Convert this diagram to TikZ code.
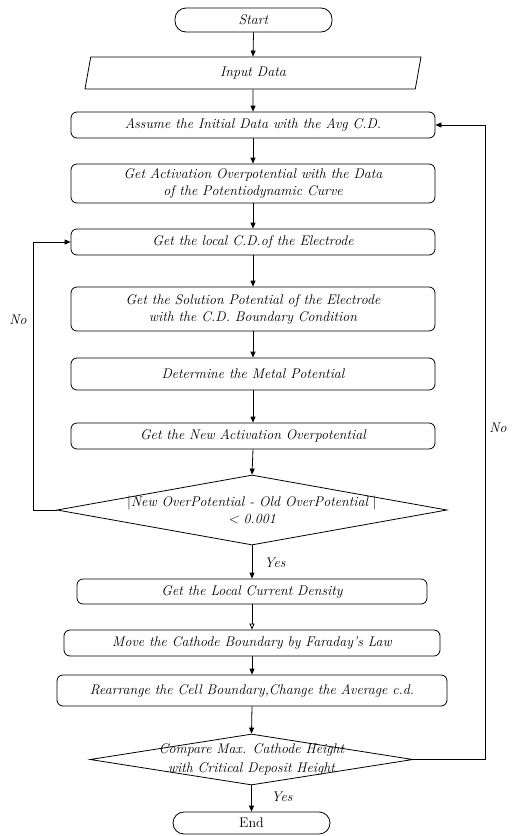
\documentclass[tikz,border=0pt]{standalone}
\usetikzlibrary{shapes.geometric,shapes.misc,arrows.meta}
\begin{document}
\begin{tikzpicture}[x=1pt,y=-1pt,
  font=\fontsize{14}{17}\selectfont\itshape,
  every path/.style={line width=0.8pt},
  arr/.style={-{Triangle[length=6pt,width=5pt]}},
  oarr/.style={-{Triangle[open,length=6pt,width=5pt]}},
  proc/.style={draw, rounded corners=6pt, align=center, inner sep=0pt, minimum width=364pt},
  term/.style={draw, rounded corners=11pt, inner sep=0pt, minimum width=157pt, minimum height=24pt},
  io/.style={draw, trapezium, trapezium left angle=65, trapezium right angle=115,
     trapezium stretches body, inner sep=0pt, minimum width=336pt, minimum height=32pt},
  dec/.style={draw, diamond, inner sep=0pt},
  lbl/.style={inner sep=0pt}]
\useasboundingbox (0,0) rectangle (516,836);

\node[term] (start) at (253.5,20) {Start};
\node[io] (inp) at (253,73) {Input Data};
\node[proc, minimum height=26pt] (assume) at (253,125) {Assume the Initial Data with the Avg C.D.};
\node[proc, minimum height=39pt] (act) at (253,183.5) {Get Activation Overpotential with the Data\\of the Potentiodynamic Curve};
\node[proc, minimum height=26pt] (local) at (253,242) {Get the local C.D.of the Electrode};
\node[proc, minimum height=44pt] (sol) at (253,309) {Get the Solution Potential of the Electrode\\with the C.D. Boundary Condition};
\node[proc, minimum height=32pt] (det) at (253,374) {Determine the Metal Potential};
\node[proc, minimum height=26pt] (new) at (253,436) {Get the New Activation Overpotential};
\node[dec, minimum width=390pt, minimum height=70pt,
  label={[align=center,inner sep=0pt,font=\fontsize{14}{17}\selectfont\itshape]center:{{\upshape|}New OverPotential - Old OverPotential {\upshape|}\\{<} 0.001}}] (d1) at (252,510) {};
\node[proc, minimum width=350pt, minimum height=25pt] (lcd) at (252,591.5) {Get the Local Current Density};
\node[proc, minimum width=376pt, minimum height=26pt] (move) at (252,643) {Move the Cathode Boundary by Faraday's Law};
\node[proc, minimum width=390pt, minimum height=31pt] (rear) at (252,690.5) {Rearrange the Cell Boundary,Change the Average c.d.};
\node[dec, minimum width=323pt, minimum height=51pt,
  label={[align=center,inner sep=0pt,font=\fontsize{14}{19}\selectfont\itshape]center:{Compare Max. Cathode Height\\with Critical Deposit Height}}] (d2) at (251.5,759.5) {};
\node[term, minimum height=22pt] (end) at (251.5,823) {\upshape End};

\node[lbl] (no1) at (18,320) {No};
\node[lbl] (no2) at (498,428) {No};
\node[lbl] (yes1) at (275,563) {Yes};
\node[lbl] (yes2) at (282,797) {Yes};

\coordinate (lc) at (33,510);
\coordinate (rc) at (485,759.5);

\draw[arr] (start.south) -- (inp.north);
\draw[arr] (inp.south) -- (assume.north);
\draw[arr] (assume.south) -- (act.north);
\draw[arr] (act.south) -- (local.north);
\draw[arr] (local.south) -- (sol.north);
\draw[arr] (sol.south) -- (det.north);
\draw[arr] (det.south) -- (new.north);
\draw[arr] (new.south) -- (d1.north);
\draw[arr] (d1.south) -- (lcd.north);
\draw[oarr] (lcd.south) -- (move.north);
\draw[arr] (move.south) -- (rear.north);
\draw[arr] (rear.south) -- (d2.north);
\draw[arr] (d2.south) -- (end.north);
\draw[arr] (d1.west) -- (lc) |- (local.west);
\draw[arr] (d2.east) -- (rc) |- (assume.east);
\end{tikzpicture}
\end{document}
